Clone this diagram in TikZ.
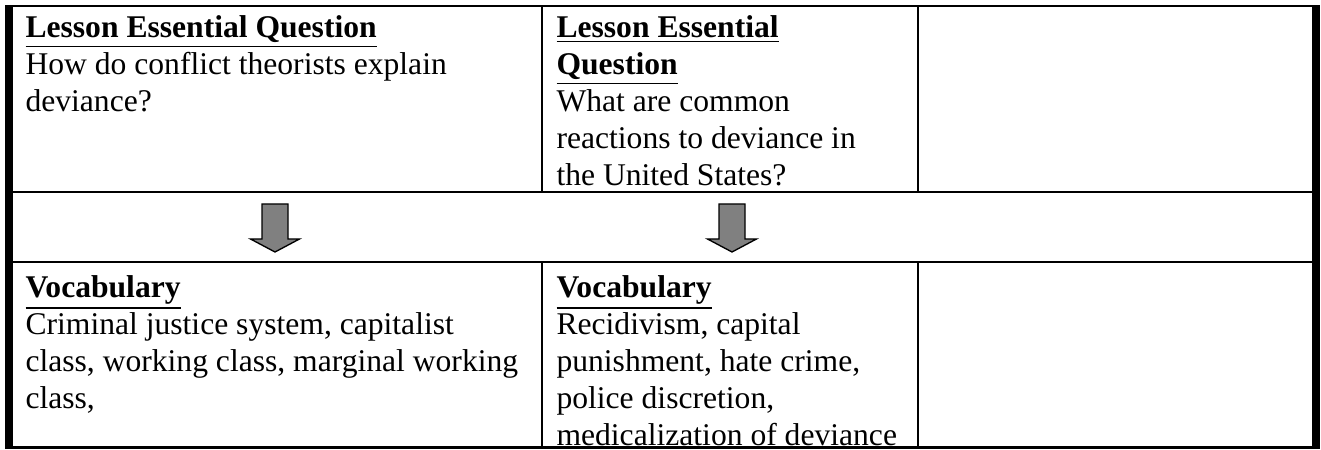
\documentclass[tikz,border=0pt]{standalone}
\usepackage{fontspec}
\setmainfont{Liberation Serif}
\usetikzlibrary{positioning}

\tikzset{cell/.style={anchor=north west, inner sep=0pt, align=left, font=\fontsize{11.8}{13.8}\selectfont},
	downarrow/.style={draw=black, line width=0.5pt, fill=gray}}
\newcommand{\headtxt}[1]{\textbf{\underline{#1}}}

\begin{document}
\begin{tikzpicture}[x=0.3734pt,y=-0.3734pt]
		\useasboundingbox (0,0) rectangle (1321,450);
		%outer frame
		\fill (5,5) rectangle (13,449);
		\fill (1312,5) rectangle (1320,449);
		\fill (5,5) rectangle (1320,7.5);
		\fill (5,446) rectangle (1320,449);
		%row division
		\fill (13,191) rectangle (1312,193);
		\fill (13,261) rectangle (1312,263);
		%column division
		\foreach \xx in {542,918}{
			\fill (\xx-1,7) rectangle (\xx+1,191);
			\fill (\xx-1,263) rectangle (\xx+1,446);
		}
		%arrows
		\foreach \xx in {275,732}{
			\draw[downarrow] (\xx-13,204) -- (\xx+13,204) -- (\xx+13,239) -- (\xx+24.5,239)
				-- (\xx,252) -- (\xx-24.5,239) -- (\xx-13,239) -- cycle;
		}
		%questions
		\node[cell] (q1) at (25,15) {\headtxt{Lesson Essential Question}\\
			How do conflict theorists explain\\ deviance?};
		\node[cell] (q2) at (556,15) {\headtxt{Lesson Essential}\\ \headtxt{Question}\\
			What are common\\ reactions to deviance in\\ the United States?};
		%vocabulary
		\node[cell] (v1) at (25,275) {\headtxt{Vocabulary}\\
			Criminal justice system, capitalist\\ class, working class, marginal working\\ class,};
		\node[cell] (v2) at (556,275) {\headtxt{Vocabulary}\\
			Recidivism, capital\\ punishment, hate crime,\\ police discretion,\\ medicalization of deviance};
\end{tikzpicture}
\end{document}
